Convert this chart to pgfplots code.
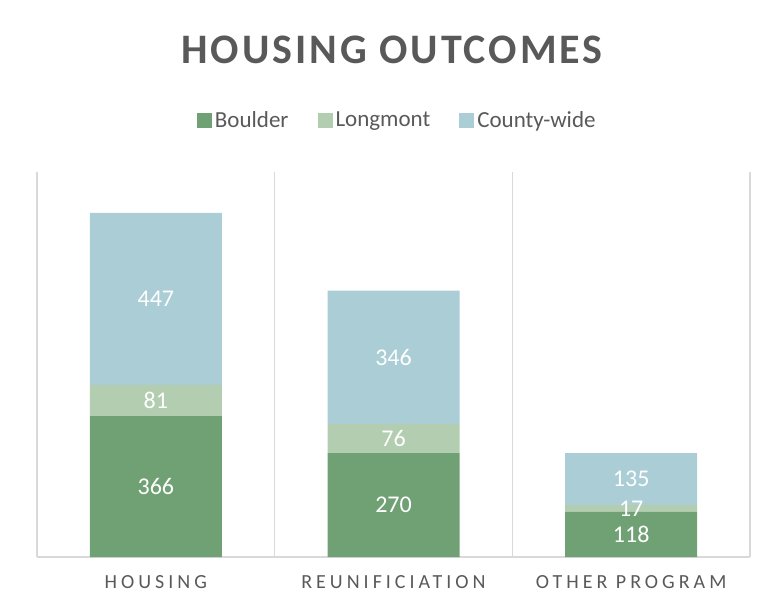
\documentclass[border=0pt]{standalone}
\usepackage{fontspec}
\setmainfont{Carlito}
\newfontfamily\titlefont[LetterSpace=7]{Carlito}
\newfontfamily\catfont[LetterSpace=20]{Carlito}
\usepackage{pgfplots}
\pgfplotsset{compat=1.18}
\definecolor{boulder}{RGB}{112,161,117}
\definecolor{longmont}{RGB}{178,205,176}
\definecolor{county}{RGB}{170,205,214}
\definecolor{gridc}{RGB}{217,217,217}
\definecolor{txt}{RGB}{89,89,89}
\begin{document}
\begin{tikzpicture}
\useasboundingbox (-37pt,-54pt) rectangle (736pt,557pt);
\begin{axis}[
  at={(0pt,0pt)}, anchor=south west,
  scale only axis, width=713pt, height=385pt,
  ybar stacked, bar width=132pt,
  xmin=-0.5, xmax=2.5, ymin=0, ymax=1000,
  axis x line=bottom, axis y line=none,
  x axis line style={gridc, line width=1.5pt, -},
  xtick={0,1,2},
  xticklabels={HOUSING,REUNIFICIATION,OTHER PROGRAM},
  xticklabel style={font=\catfont\fontsize{20}{20}\selectfont, text=txt, anchor=center, yshift=-25pt},
  major tick length=0pt, minor tick length=0pt,
  minor xtick={-0.5,0.5,1.5,2.5},
  xminorgrids, minor grid style={gridc, line width=1.5pt},
  visualization depends on={rawy \as \rawy},
  nodes near coords={\pgfmathprintnumber[assume math mode=true]{\rawy}},
  every node near coord/.append style={font=\fontsize{24}{24}\selectfont, text=white,
    anchor=center},
  legend style={at={(0.506,1.135)}, anchor=center, draw=none, fill=none,
    legend columns=-1, font=\fontsize{23}{23}\selectfont, text=txt,
    nodes={inner sep=3pt},
    /tikz/every even column/.append style={column sep=26pt}},
  legend image code/.code={\fill[#1] (0pt,-7.5pt) rectangle (15pt,7.5pt);},
]
\addplot+[fill=boulder, draw=none] coordinates {(0,366) (1,270) (2,118)};
\addplot+[fill=longmont, draw=none] coordinates {(0,81) (1,76) (2,17)};
\addplot+[fill=county, draw=none] coordinates {(0,447) (1,346) (2,135)};
\legend{Boulder,Longmont,County-wide}
\end{axis}
\node[font=\titlefont\bfseries\fontsize{42}{42}\selectfont, text=txt] at (355pt,507pt) {HOUSING OUTCOMES};
\end{tikzpicture}
\end{document}
